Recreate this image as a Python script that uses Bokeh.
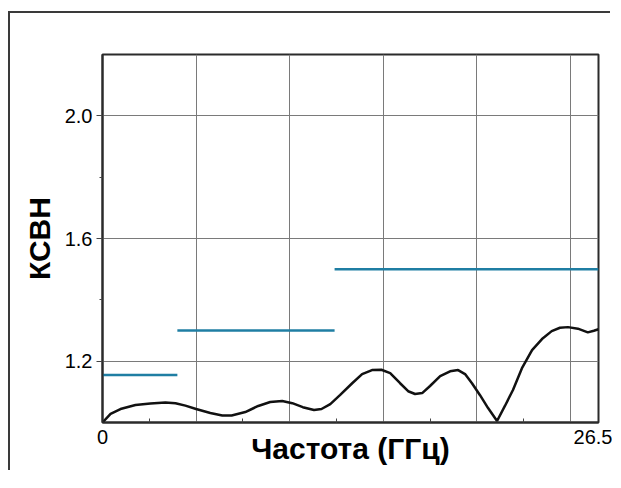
from bokeh.plotting import figure
from bokeh.models import FixedTicker, Range1d
from bokeh.embed import file_html
from bokeh.resources import INLINE

# Measured VSWR curve (frequency in GHz)
freq = [0.0, 0.43, 0.96, 1.76, 2.56, 3.36, 3.9, 4.43, 5.0, 5.76, 6.4, 6.9, 7.63, 8.32,
        8.96, 9.6, 10.14, 10.7, 11.3, 11.7, 12.17, 12.7, 13.34, 13.87, 14.4, 14.9,
        15.37, 15.9, 16.33, 16.7, 17.08, 17.5, 18.04, 18.57, 19.0, 19.37, 19.74,
        20.17, 20.6, 21.08, 21.5, 21.93, 22.41, 22.95, 23.48, 24.0, 24.44, 24.87,
        25.4, 25.93, 26.25, 26.5]
vswr = [1.0, 1.028, 1.044, 1.057, 1.062, 1.065, 1.063, 1.055, 1.044, 1.031, 1.023,
        1.023, 1.034, 1.054, 1.067, 1.07, 1.063, 1.05, 1.041, 1.044, 1.06, 1.09,
        1.128, 1.158, 1.171, 1.172, 1.161, 1.128, 1.102, 1.093, 1.096, 1.119,
        1.151, 1.167, 1.171, 1.158, 1.128, 1.089, 1.047, 1.005, 1.054, 1.106,
        1.177, 1.236, 1.272, 1.298, 1.309, 1.311, 1.306, 1.294, 1.299, 1.304]

# Specification limits (step lines)
spec_start = [0.0, 4.0, 12.4]
spec_end = [4.0, 12.4, 26.5]
spec_level = [1.155, 1.30, 1.50]

x_tick_values = [0, 26.5]
x_tick_labels = ["0", "26.5"]
x_minor_ticks = [2.5, 7.5, 12.5, 17.5, 22.5]
x_grid_values = [5, 10, 15, 20, 25]
y_tick_values = [1.2, 1.6, 2.0]
y_tick_labels = ["1.2", "1.6", "2.0"]
y_minor_ticks = [1.4, 1.8]

x_title = "Частота (ГГц)"
y_title = "КСВН"

p = figure(width=602, height=459, output_backend="svg", toolbar_location=None,
           x_range=Range1d(0, 26.5), y_range=Range1d(1.0, 2.2),
           min_border_left=92, min_border_top=41, min_border_right=14,
           min_border_bottom=50)
# outer frame of the picture: only its top and left edges are inside the window
p.styles = {"margin-top": "13px", "margin-left": "10px",
            "box-shadow": "-2px -2px 0px 0px #3a3a3a"}

p.outline_line_color = "#2b2b2b"
p.outline_line_width = 2
p.background_fill_color = "white"
p.border_fill_color = "white"

xa = p.xaxis[0]
xa.ticker = FixedTicker(ticks=x_tick_values, minor_ticks=x_minor_ticks)
xa.major_label_overrides = {v: s for v, s in zip(x_tick_values, x_tick_labels)}
xa.major_tick_out = 0
xa.major_tick_in = 0
xa.minor_tick_in = 4
xa.minor_tick_out = 0
xa.minor_tick_line_color = "#444444"
xa.axis_line_color = "#2b2b2b"
xa.axis_line_width = 2
xa.major_label_standoff = 7
xa.major_label_text_font = "Liberation Sans"
xa.major_label_text_font_size = "20px"
xa.major_label_text_color = "black"
xa.axis_label = x_title
xa.axis_label_text_font = "Liberation Sans"
xa.axis_label_text_font_style = "bold"
xa.axis_label_text_font_size = "30px"
xa.axis_label_text_color = "black"
xa.axis_label_standoff = -15

ya = p.yaxis[0]
ya.ticker = FixedTicker(ticks=y_tick_values, minor_ticks=y_minor_ticks)
ya.major_label_overrides = {v: s for v, s in zip(y_tick_values, y_tick_labels)}
ya.major_tick_out = 6
ya.major_tick_in = 0
ya.minor_tick_out = 3
ya.minor_tick_in = 0
ya.major_tick_line_color = "#444444"
ya.minor_tick_line_color = "#444444"
ya.axis_line_color = "#2b2b2b"
ya.axis_line_width = 2
ya.major_label_standoff = 4
ya.major_label_text_font = "Liberation Sans"
ya.major_label_text_font_size = "20px"
ya.major_label_text_color = "black"
ya.axis_label = y_title
ya.axis_label_text_font = "Liberation Sans"
ya.axis_label_text_font_style = "bold"
ya.axis_label_text_font_size = "30px"
ya.axis_label_text_color = "black"
ya.axis_label_standoff = 6

p.xgrid[0].ticker = FixedTicker(ticks=x_grid_values)
p.xgrid[0].grid_line_color = "#7a7a7a"
p.xgrid[0].grid_line_width = 1
p.ygrid[0].grid_line_color = "#7a7a7a"
p.ygrid[0].grid_line_width = 1

p.segment(x0=spec_start, x1=spec_end, y0=spec_level, y1=spec_level,
          line_color="#1f7ea3", line_width=2.5)
p.line(freq, vswr, line_color="#111111", line_width=2.5)

open("out.html", "w").write(file_html(p, INLINE))
